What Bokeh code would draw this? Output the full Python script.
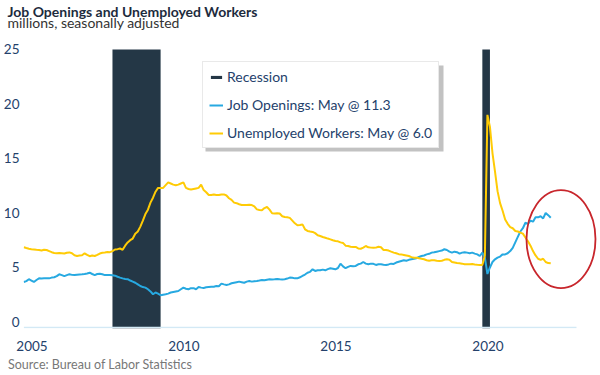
import pandas as pd
from bokeh.plotting import figure
from bokeh.models import (Range1d, FixedTicker, Legend, LegendItem, Title,
                          PrintfTickFormatter, BoxAnnotation)
from bokeh.embed import file_html
from bokeh.resources import INLINE

# ---------------- data (millions) ----------------
START = "2005-01-01"
END = "2022-05-01"

UNEMPLOYED = [
    6.85, 6.78, 6.72, 6.68, 6.65, 6.62, 6.60, 6.55, 6.62, 6.60, 6.50, 6.40,   # 2005
    6.33, 6.30, 6.32, 6.30, 6.28, 6.35, 6.38, 6.30, 6.12, 6.06, 6.10, 6.12,   # 2006
    6.30, 6.15, 6.03, 6.10, 6.05, 6.15, 6.28, 6.35, 6.38, 6.42, 6.40, 6.50,   # 2007
    6.65, 6.68, 6.74, 6.62, 7.00, 7.30, 7.50, 7.65, 8.10, 8.30, 8.75, 9.30,   # 2008
    9.90, 10.30, 10.95, 11.40, 11.95, 12.30, 12.28, 12.30, 12.55, 12.80, 12.70, 12.60,  # 2009
    12.55, 12.60, 12.70, 12.80, 12.30, 12.20, 12.15, 12.20, 12.25, 12.30, 12.60, 12.10,  # 2010
    11.90, 11.65, 11.65, 11.70, 11.65, 11.65, 11.70, 11.70, 11.60, 11.35, 11.20, 10.95,  # 2011
    10.90, 10.80, 10.73, 10.72, 10.73, 10.75, 10.72, 10.60, 10.33, 10.28, 10.25, 10.45,  # 2012
    10.55, 10.30, 9.97, 9.95, 9.97, 9.95, 9.70, 9.63, 9.60, 9.55, 9.30, 9.05,  # 2013
    8.87, 8.90, 8.95, 8.50, 8.35, 8.30, 8.26, 8.15, 7.95, 7.88, 7.80, 7.73,   # 2014
    7.65, 7.58, 7.50, 7.43, 7.40, 7.30, 7.25, 7.00, 6.97, 6.90, 6.88, 6.88,   # 2015
    6.75, 6.72, 6.82, 6.97, 6.85, 6.82, 6.80, 6.82, 6.90, 6.85, 6.60, 6.60,   # 2016
    6.55, 6.45, 6.36, 6.30, 6.22, 6.20, 6.15, 6.10, 6.05, 5.95, 5.90, 5.90,   # 2017
    5.84, 5.80, 5.75, 5.66, 5.62, 5.66, 5.66, 5.62, 5.60, 5.62, 5.70, 5.75,   # 2018
    5.70, 5.50, 5.45, 5.40, 5.38, 5.35, 5.30, 5.29, 5.30, 5.32, 5.28, 5.25,   # 2019
    5.23, 5.23, 6.10, 19.00, 17.90, 15.50, 13.80, 12.00, 10.90, 10.20, 9.40, 9.00,  # 2020
    8.70, 8.60, 8.35, 8.30, 8.20, 8.10, 7.75, 7.40, 7.00, 6.50, 6.10, 5.80,   # 2021
    5.70, 5.80, 5.50, 5.40, 5.38,                                             # 2022
]

JOB_OPENINGS = [
    3.67, 3.75, 3.92, 3.80, 3.67, 3.85, 4.00, 3.98, 4.00, 4.02, 4.00, 4.07,   # 2005
    4.10, 4.20, 4.37, 4.30, 4.20, 4.30, 4.37, 4.32, 4.30, 4.33, 4.35, 4.37,   # 2006
    4.40, 4.45, 4.52, 4.40, 4.30, 4.40, 4.43, 4.38, 4.30, 4.32, 4.30, 4.28,   # 2007
    4.25, 4.15, 4.07, 4.00, 3.95, 3.92, 3.80, 3.70, 3.60, 3.45, 3.30, 3.20,   # 2008
    3.15, 3.00, 2.80, 2.54, 2.70, 2.60, 2.45, 2.50, 2.54, 2.60, 2.70, 2.75,   # 2009
    2.80, 2.84, 3.00, 3.15, 3.05, 3.00, 3.10, 3.10, 3.00, 3.20, 3.15, 3.12,   # 2010
    3.18, 3.20, 3.22, 3.23, 3.30, 3.28, 3.52, 3.45, 3.40, 3.45, 3.55, 3.60,   # 2011
    3.65, 3.70, 3.65, 3.60, 3.70, 3.76, 3.70, 3.74, 3.76, 3.80, 3.85, 3.82,   # 2012
    3.88, 3.92, 3.90, 3.92, 3.95, 3.92, 3.90, 3.92, 3.98, 4.07, 4.05, 4.00,   # 2013
    4.00, 4.10, 4.22, 4.35, 4.52, 4.60, 4.83, 4.68, 4.75, 4.74, 4.80, 4.74,   # 2014
    4.85, 4.93, 4.88, 4.83, 4.95, 5.35, 5.10, 4.93, 5.05, 5.14, 5.12, 5.14,   # 2015
    5.29, 5.35, 5.50, 5.35, 5.29, 5.35, 5.33, 5.23, 5.30, 5.29, 5.25, 5.23,   # 2016
    5.28, 5.35, 5.32, 5.45, 5.53, 5.60, 5.66, 5.62, 5.70, 5.75, 5.80, 5.85,   # 2017
    5.96, 6.05, 6.10, 6.20, 6.25, 6.36, 6.40, 6.45, 6.50, 6.55, 6.67, 6.60,   # 2018
    6.45, 6.36, 6.45, 6.40, 6.27, 6.36, 6.40, 6.36, 6.30, 6.36, 6.27, 6.20,   # 2019
    6.05, 6.36, 5.90, 4.40, 5.00, 5.50, 5.75, 5.90, 6.00, 6.20, 6.20, 6.30,   # 2020
    6.50, 6.80, 7.30, 7.80, 8.30, 8.60, 9.10, 9.00, 9.30, 9.20, 9.60, 9.60,   # 2021
    9.70, 9.50, 10.00, 9.80, 9.56,                                            # 2022
]

# recessions (decimal years): Dec 2007 - Jun 2009, Feb 2020 - Apr 2020
RECESSION_START = [2007 + 11 / 12, 2020 + 1 / 12]
RECESSION_END = [2009 + 6 / 12, 2020 + 4 / 12]
RECESSION_TOP = 25

YEAR_TICKS = [2005.27, 2010.27, 2015.27, 2020.27]
Y_TICKS = [0, 5, 10, 15, 20, 25]

# highlight ellipse around the latest readings
HIGHLIGHT_X = [2022.67]
HIGHLIGHT_Y = [7.6]
HIGHLIGHT_W = 2.27
HIGHLIGHT_H = 9.0

TITLE = "Job Openings and Unemployed Workers"
SUBTITLE = "millions, seasonally adjusted"
SOURCE = "Source: Bureau of Labor Statistics"
LABEL_JO = "Job Openings: May @ 11.3"
LABEL_UN = "Unemployed Workers: May @ 6.0"

# ---------------- styling ----------------
NAVY = "#243746"
BLUE = "#27a9e1"
YELLOW = "#ffcb05"
RED = "#c8262c"
TEXT = "#24416b"
FONT = "Lato"

months = pd.date_range(START, END, freq="MS")
dec_year = list(months.year + (months.month - 1) / 12)

W, H = 600, 375
FRAME_LEFT = 23
FRAME_TOP = 30
FRAME_BOTTOM = 328
Y0, Y1 = -0.6, 26.74
X0, X1 = 2004.99, 2023.97

p = figure(width=W, height=H, output_backend="svg", toolbar_location=None,
           title=None,
           x_range=Range1d(X0, X1), y_range=Range1d(Y0, Y1),
           min_border_left=FRAME_LEFT, min_border_right=0,
           min_border_top=FRAME_TOP, min_border_bottom=H - FRAME_BOTTOM)
p.outline_line_color = None
p.xgrid.visible = False
p.ygrid.visible = False
p.background_fill_color = "white"
p.border_fill_color = "white"

# recession shading
rec = p.quad(left=RECESSION_START, right=RECESSION_END, bottom=Y0, top=RECESSION_TOP,
             fill_color=NAVY, line_color=None)

# baseline
p.segment(x0=[2005.0], x1=[2023.18], y0=[-0.5], y1=[-0.5], line_color="#d3e9f5", line_width=1.5)

jo = p.line(dec_year, JOB_OPENINGS, line_color=BLUE, line_width=2)
un = p.line(dec_year, UNEMPLOYED, line_color=YELLOW, line_width=2)

p.ellipse(x=HIGHLIGHT_X, y=HIGHLIGHT_Y, width=HIGHLIGHT_W, height=HIGHLIGHT_H,
          fill_color=None, line_color=RED, line_width=1.8)

# axes
for ax in (p.xaxis[0], p.yaxis[0]):
    ax.axis_line_color = None
    ax.major_tick_line_color = None
    ax.minor_tick_line_color = None
    ax.major_tick_out = 0
    ax.major_tick_in = 0
    ax.minor_tick_out = 0
    ax.minor_tick_in = 0
    ax.major_label_text_font = FONT
    ax.major_label_text_font_size = "13.5px"
    ax.major_label_text_color = TEXT

p.xaxis.ticker = FixedTicker(ticks=YEAR_TICKS)
p.xaxis.formatter = PrintfTickFormatter(format="%d")
p.xaxis.major_label_standoff = 12
p.yaxis.ticker = FixedTicker(ticks=Y_TICKS)
p.yaxis.major_label_standoff = 4

# legend (with a soft drop shadow behind it)
LEG_X, LEG_Y, LEG_W, LEG_H = 179, 180, 238, 86
p.add_layout(BoxAnnotation(left=LEG_X + 3, right=LEG_X + LEG_W + 3,
                           bottom=LEG_Y - 3, top=LEG_Y + LEG_H - 3,
                           left_units="screen", right_units="screen",
                           bottom_units="screen", top_units="screen",
                           fill_color="#9a9a9a", fill_alpha=0.6, line_color=None))
legend = Legend(items=[LegendItem(label="Recession", renderers=[rec]),
                       LegendItem(label=LABEL_JO, renderers=[jo]),
                       LegendItem(label=LABEL_UN, renderers=[un])],
                location=(LEG_X, LEG_Y))
legend.label_text_font = FONT
legend.label_text_font_size = "14px"
legend.label_text_color = TEXT
legend.glyph_width = 14
legend.glyph_height = 4
legend.label_height = 17
legend.label_standoff = 4
legend.spacing = 11
legend.padding = 6
legend.margin = 0
legend.border_line_color = "#d4d4d4"
legend.border_line_width = 1
legend.background_fill_alpha = 1
p.add_layout(legend)

# titles (first added sits nearest the plot) and source
p.add_layout(Title(text=SUBTITLE, text_font=FONT, text_font_size="14px",
                   text_font_style="normal", text_color="#333333",
                   align="left", offset=-16, standoff=0, vertical_align="bottom"), "above")
p.add_layout(Title(text=TITLE, text_font=FONT, text_font_size="14px",
                   text_font_style="bold", text_color="#1d2b3d",
                   align="left", offset=-16, standoff=-16, vertical_align="bottom"), "above")
p.add_layout(Title(text=SOURCE, text_font=FONT, text_font_size="12.5px",
                   text_font_style="normal", text_color="#777777",
                   align="left", offset=-15.5, standoff=2, vertical_align="bottom"), "below")

open("out.html", "w").write(file_html(p, INLINE))
